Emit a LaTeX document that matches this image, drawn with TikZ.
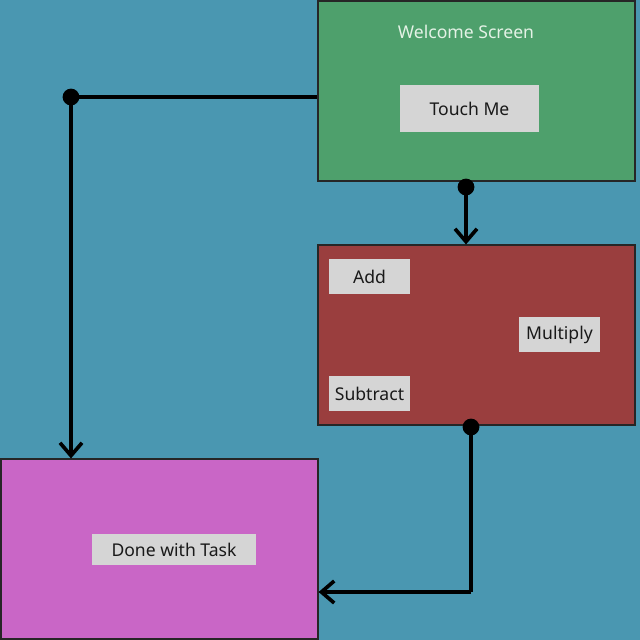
\documentclass[tikz,border=0pt]{standalone}
\usepackage{fontspec}
\setmainfont{Noto Sans}
\usepackage{tikz}
\usetikzlibrary{arrows.meta}

\definecolor{bgblue}{HTML}{4A97B1}
\definecolor{screengreen}{HTML}{4EA06C}
\definecolor{screenred}{HTML}{9A3E3E}
\definecolor{screenpink}{HTML}{C966C6}
\definecolor{btngray}{HTML}{D5D5D5}
\definecolor{titlegreen}{HTML}{E4F2E6}

\tikzset{
  screen/.style={draw=black!85, line width=0.8pt, inner sep=0pt,
    minimum width=7.925cm, minimum height=4.5cm},
  btn/.style={fill=btngray, inner sep=0pt, text=black!90,
    font=\fontsize{12.5}{14}\selectfont},
  dot/.style={circle, fill=black, inner sep=0pt, minimum size=4.2mm},
  wire/.style={line width=2.6pt, black}
}

\begin{document}
\begin{tikzpicture}[x=0.025cm, y=-0.025cm, >={Straight Barb[length=3.2mm, width=5.5mm]}]
\fill[bgblue] (0,0) rectangle (640,640);
\useasboundingbox (0,0) rectangle (640,640);

% screens
\node[screen, fill=screengreen] (welcome) at (476.5,91) {};
\node[screen, fill=screenred] (calc) at (476.5,335) {};
\node[screen, fill=screenpink] (done) at (159.5,549) {};

% texts and buttons
\node[text=titlegreen, font=\fontsize{12.5}{14}\selectfont] (title) at (466,32) {Welcome Screen};
\node[btn, minimum width=3.475cm, minimum height=1.175cm] (touch) at (469.5,108.5) {Touch Me};
\node[btn, minimum width=2.025cm, minimum height=0.875cm] (add) at (369.5,276.5) {Add};
\node[btn, minimum width=2.025cm, minimum height=0.875cm] (mult) at (559.5,334.5) {Multiply};
\node[btn, minimum width=2.025cm, minimum height=0.875cm] (sub) at (369.5,393.5) {Subtract};
\node[btn, minimum width=4.1cm, minimum height=0.775cm] (task) at (174,549.5) {Done with Task};

% connectors
\node[dot] (d1) at (71,97) {};
\node[dot] (d2) at (466,187) {};
\node[dot] (d3) at (471,427) {};
\coordinate (c3) at (471,592);

\draw[wire] (d1.center) -- (d1 -| welcome.west);
\draw[wire, ->] (d1.center) -- (d1 |- done.north);
\draw[wire, ->] (d2.center) -- (d2 |- calc.north);
\draw[wire] (d3.center) -- (c3);
\draw[wire, ->] (c3) -- (c3 -| done.east);
\end{tikzpicture}
\end{document}
